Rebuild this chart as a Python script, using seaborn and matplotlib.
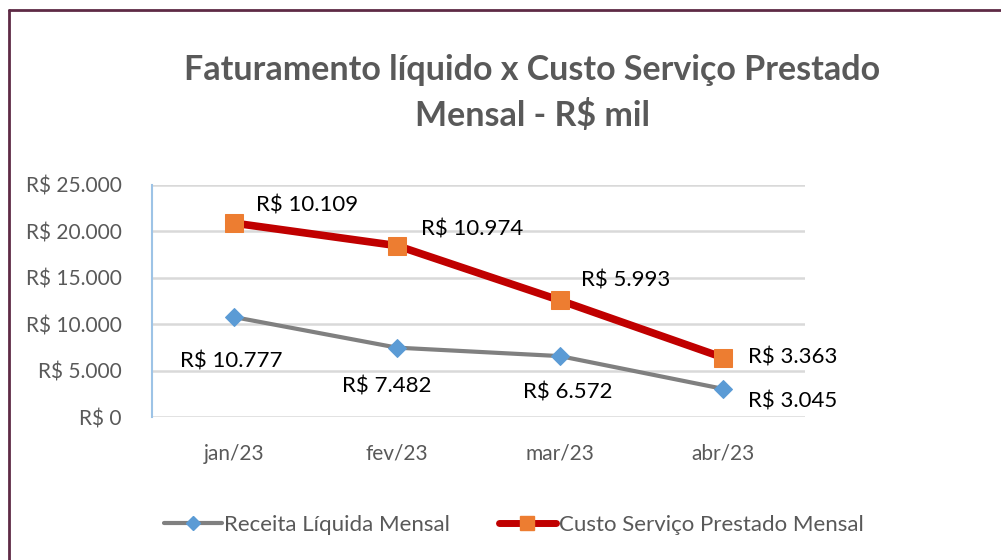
import matplotlib
matplotlib.use('Agg')
import matplotlib.pyplot as plt
import seaborn as sns
import pandas as pd
import numpy as np
from matplotlib.lines import Line2D
from matplotlib.ticker import FuncFormatter

meses = ['jan/23', 'fev/23', 'mar/23', 'abr/23']
receita = [10777, 7482, 6572, 3045]     # Receita Líquida Mensal
custo = [10109, 10974, 5993, 3363]      # Custo Serviço Prestado Mensal (empilhado)

sns.set_theme(style='white')
plt.rcParams['font.family'] = ['Lato', 'DejaVu Sans']

cinza_txt = '#595959'
empilhado = np.array(receita) + np.array(custo)   # linha empilhada como no Excel

df = pd.DataFrame({'mes': meses, 'receita': receita, 'total': empilhado})

fig = plt.figure(figsize=(10.01, 5.6), dpi=100)
ax = fig.add_axes([0.152, 0.255, 0.652, 0.415])   # area do grafico

x = np.arange(len(meses))
sns.lineplot(x=x, y=df['receita'], ax=ax, color='#808080', linewidth=3,
             marker='D', markersize=9, markerfacecolor='#5B9BD5', markeredgecolor='#5B9BD5')
sns.lineplot(x=x, y=df['total'], ax=ax, color='#C00000', linewidth=5.5,
             marker='s', markersize=13, markerfacecolor='#ED7D31', markeredgecolor='#ED7D31')

ax.set_xlim(-0.5, 3.5)
ax.set_ylim(0, 25000)
ax.set_yticks(range(0, 25001, 5000))
ax.yaxis.set_major_formatter(FuncFormatter(lambda v, p: 'R$ ' + f'{int(v):,}'.replace(',', '.')))
ax.set_xticks(x)
ax.set_xticklabels(meses)
ax.tick_params(axis='both', labelsize=15, colors=cinza_txt, length=0)
ax.tick_params(axis='x', pad=19)
ax.tick_params(axis='y', pad=22)
ax.set_xlabel('')
ax.set_ylabel('')
ax.grid(axis='y', color='#D9D9D9', linewidth=1.8)
for lado in ['top', 'right', 'bottom']:
    ax.spines[lado].set_visible(False)
ax.spines['left'].set_color('#9DC3E6')
ax.spines['left'].set_linewidth(1.5)

fmt = lambda v: 'R$ ' + f'{v:,}'.replace(',', '.')

# Rotulos (deslocamentos em pixels)
desl_rec = [(-2, -44, 'center'), (-10, -39, 'center'), (8, -36, 'center'), (25, -13, 'left')]
desl_cus = [(73, 18, 'center'), (75, 16, 'center'), (66, 20, 'center'), (25, 0, 'left')]
for i in range(len(meses)):
    dx, dy, ha = desl_rec[i]
    ax.annotate(fmt(receita[i]), (x[i], receita[i]), textcoords='offset pixels', xytext=(dx, dy),
                ha=ha, va='center', fontsize=16, color='black')
    dx, dy, ha = desl_cus[i]
    ax.annotate(fmt(custo[i]), (x[i], empilhado[i]), textcoords='offset pixels', xytext=(dx, dy),
                ha=ha, va='center', fontsize=16, color='black')

fig.text(0.532, 0.834, 'Faturamento líquido x Custo Serviço Prestado\nMensal - R$ mil',
         ha='center', va='center', fontsize=24.5, fontweight='bold', color=cinza_txt,
         linespacing=1.45)

handles = [
    Line2D([], [], color='#808080', linewidth=3, marker='D', markersize=7,
           markerfacecolor='#5B9BD5', markeredgecolor='#5B9BD5'),
    Line2D([], [], color='#C00000', linewidth=5, marker='s', markersize=10,
           markerfacecolor='#ED7D31', markeredgecolor='#ED7D31'),
]
fig.legend(handles, ['Receita Líquida Mensal', 'Custo Serviço Prestado Mensal'],
           loc='center', bbox_to_anchor=(0.513, 0.063), ncol=2, frameon=False,
           fontsize=16, labelcolor=cinza_txt, handlelength=2.6, handletextpad=0.1,
           columnspacing=2.2)

# Moldura externa
fig.add_artist(Line2D([0.0085, 0.0085], [0, 0.982], color='#5E2A45', linewidth=2, transform=fig.transFigure))
fig.add_artist(Line2D([0.0085, 1.0], [0.982, 0.982], color='#5E2A45', linewidth=2, transform=fig.transFigure))

fig.savefig('out.png', dpi=100)
